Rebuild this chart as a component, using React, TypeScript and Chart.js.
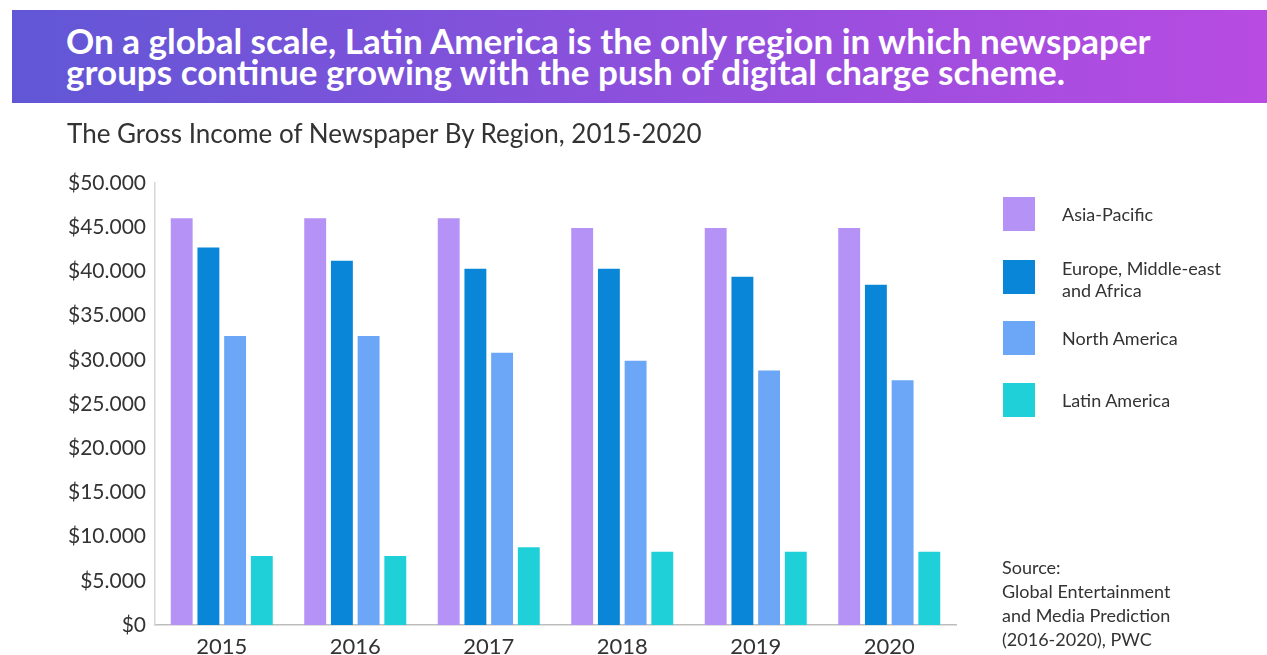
import React, { useEffect, useRef } from "react";
import { Chart, registerables } from "chart.js";

Chart.register(...registerables);

const years = ["2015", "2016", "2017", "2018", "2019", "2020"];
const asiaPacific = [46000, 46000, 46000, 44900, 44900, 44900];
const emea = [42700, 41200, 40300, 40300, 39400, 38500];
const northAmerica = [32700, 32700, 30800, 29900, 28800, 27700];
const latinAmerica = [7800, 7800, 8800, 8300, 8300, 8300];
const seriesNames = ["Asia-Pacific", "Europe, Middle-east and Africa", "North America", "Latin America"];
const seriesColors = ["#b592f5", "#0a86d8", "#6ba7f6", "#1fd0d8"];
const legendLines = [["Asia-Pacific"], ["Europe, Middle-east", "and Africa"], ["North America"], ["Latin America"]];
const sourceLines = ["Source:", "Global Entertainment", "and Media Prediction", "(2016-2020), PWC"];

const FONT = "Lato, 'Noto Sans', sans-serif";

export default function App() {
  const ref = useRef<HTMLCanvasElement | null>(null);

  useEffect(() => {
    document.body.style.margin = "0";
    const ctx = ref.current!.getContext("2d")!;
    const values = [asiaPacific, emea, northAmerica, latinAmerica];
    const chart = new Chart(ctx, {
      type: "bar",
      data: {
        labels: years,
        datasets: values.map((v, i) => ({
          label: seriesNames[i],
          data: v,
          backgroundColor: seriesColors[i],
          borderWidth: 0,
          categoryPercentage: 0.8,
          barPercentage: 0.82,
        })),
      },
      options: {
        animation: false,
        responsive: false,
        maintainAspectRatio: false,
        layout: { padding: { top: 183, right: 311, bottom: 0, left: 0 } },
        plugins: { legend: { display: false }, tooltip: { enabled: false }, title: { display: false } },
        scales: {
          x: {
            grid: { display: false, drawTicks: false },
            border: { display: true, color: "#bdbdbd", width: 1.5 },
            ticks: { color: "#333", font: { family: FONT, size: 22 }, padding: 9 },
            afterFit: (s: any) => { s.height = 30; },
          },
          y: {
            min: 0,
            max: 50000,
            grid: { display: false, drawTicks: false },
            border: { display: true, color: "#d6d6d6", width: 1.5 },
            ticks: {
              stepSize: 5000,
              color: "#333",
              font: { family: FONT, size: 21 },
              padding: 9,
              callback: (v: any) => "$" + Number(v).toLocaleString("de-DE"),
            },
            afterFit: (s: any) => { s.width = 155; },
          },
        },
      },
    });
    return () => chart.destroy();
  }, []);

  return (
    <div style={{ position: "relative", width: 1267, height: 655, background: "#fff", overflow: "hidden", fontFamily: FONT }}>
      <canvas ref={ref} width={1267} height={655} style={{ position: "absolute", left: 0, top: 0, width: 1267, height: 655 }} />
      <div
        style={{
          position: "absolute", left: 12, top: 10, width: 1255, height: 93,
          background: "linear-gradient(90deg, #6157d6 0%, #8d50dc 50%, #b84be2 100%)",
        }}
      />
      <div
        style={{
          position: "absolute", left: 66, top: 25, color: "#fff", fontWeight: 700, fontSize: 35,
          lineHeight: "31px", whiteSpace: "nowrap",
        }}
      >
        <div>On a global scale, Latin America is the only region in which newspaper</div>
        <div>groups continue growing with the push of digital charge scheme.</div>
      </div>
      <div style={{ position: "absolute", left: 67, top: 117, fontSize: 26, lineHeight: "32px", color: "#333", whiteSpace: "nowrap" }}>
        The Gross Income of Newspaper By Region, 2015-2020
      </div>
      {[197, 260, 321, 383].map((top, i) => (
        <React.Fragment key={i}>
          <div style={{ position: "absolute", left: 1003, top, width: 32, height: 34, background: seriesColors[i] }} />
          <div
            style={{
              position: "absolute", left: 1062, top: top + (legendLines[i].length === 1 ? 6 : -3),
              fontSize: 18, lineHeight: "22px", color: "#333", whiteSpace: "nowrap",
            }}
          >
            {legendLines[i].map((l, j) => <div key={j}>{l}</div>)}
          </div>
        </React.Fragment>
      ))}
      <div style={{ position: "absolute", left: 1002, top: 555, fontSize: 18, lineHeight: "24px", color: "#333", whiteSpace: "nowrap" }}>
        {sourceLines.map((l, j) => <div key={j}>{l}</div>)}
      </div>
    </div>
  );
}
